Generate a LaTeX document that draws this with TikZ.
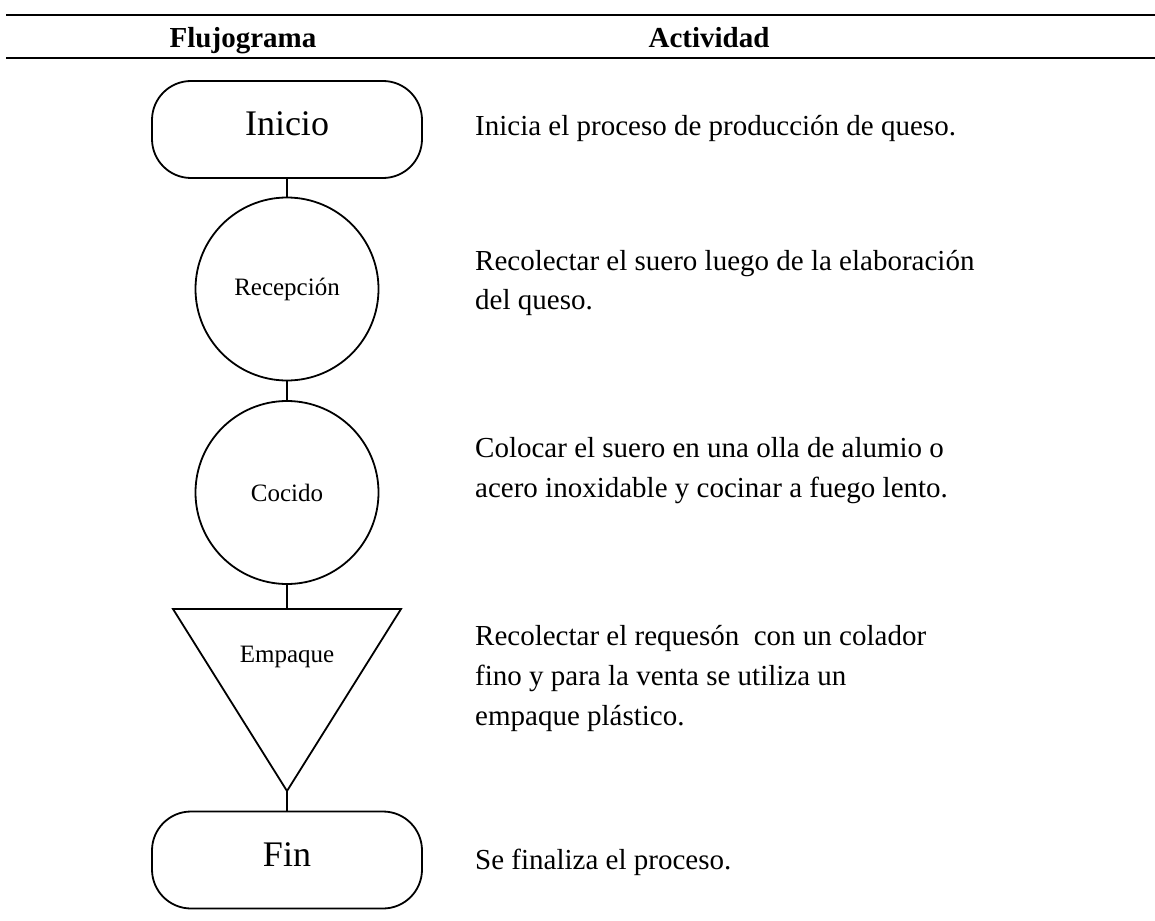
\documentclass[tikz,border=0pt]{standalone}
\usepackage{fontspec}
\setmainfont{Liberation Serif}
\begin{document}
\begin{tikzpicture}[x=1pt,y=-1pt,
  shp/.style={draw=black, line width=1.8pt, fill=white},
  term/.style={shp, rounded corners=39pt, minimum width=270pt, minimum height=97pt, inner sep=0pt, text height=26pt, text depth=13pt, font=\fontsize{36}{40}\selectfont},
  proc/.style={shp, circle, minimum size=183pt, inner sep=0pt, font=\fontsize{25}{29}\selectfont},
  lbl/.style={inner sep=0pt, font=\fontsize{25}{29}\selectfont},
  act/.style={anchor=base west, inner sep=0pt, font=\fontsize{29}{34}\selectfont},
  head/.style={anchor=base, inner sep=0pt, font=\fontsize{29}{33}\selectfont\bfseries},
  link/.style={draw=black, line width=1.4pt},
  rulel/.style={draw=black, line width=2pt}]
\useasboundingbox (0,0) rectangle (1155,920);
% rules
\coordinate (r1a) at (6,15); \coordinate (r1b) at (1155,15);
\coordinate (r2a) at (6,58); \coordinate (r2b) at (1155,58);
\draw[rulel] (r1a) -- (r1b);
\draw[rulel] (r2a) -- (r2b);
% header
\node[head] (h1) at (243,48) {Flujograma};
\node[head] (h2) at (709,48) {Actividad};
% flowchart
\node[term] (inicio) at (287,129.5) {Inicio};
\node[proc] (recep) at (287,289) {Recepción};
\node[proc] (coc) at (287,492.5) {Cocido};
\coordinate (tl) at (173,609);
\coordinate (tr) at (401,609);
\coordinate (tb) at (287,791);
\coordinate (tt) at (287,609);
\draw[shp] (tl) -- (tr) -- (tb) -- cycle;
\node[lbl] (emp) at (287,657) {Empaque};
\node[term] (fin) at (287,860) {Fin};
\draw[link] (inicio.south) -- (recep.north);
\draw[link] (recep.south) -- (coc.north);
\draw[link] (coc.south) -- (tt);
\draw[link] (tb) -- (fin.north);
% activities
\node[act] (a1) at (475,136) {Inicia el proceso de producción de queso.};
\node[act] (a2a) at (475,270) {Recolectar el suero luego de la elaboración};
\node[act] (a2b) at (475,309) {del queso.};
\node[act] (a3a) at (475,457) {Colocar el suero en una olla de alumio o};
\node[act] (a3b) at (475,497) {acero inoxidable y cocinar a fuego lento.};
\node[act] (a4a) at (475,645) {Recolectar el requesón\ \ con un colador};
\node[act] (a4b) at (475,685) {fino y para la venta se utiliza un};
\node[act] (a4c) at (475,725) {empaque plástico.};
\node[act] (a5) at (475,869) {Se finaliza el proceso.};
\end{tikzpicture}
\end{document}
